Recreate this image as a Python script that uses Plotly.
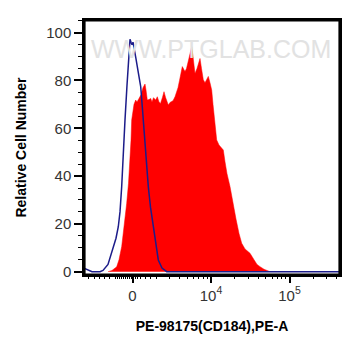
import math
import plotly.graph_objects as go

# x positions are in display decades (0 label at 0, 10^4 at 1, 10^5 at 2)
DEC_PX = 78.5
ZERO_PX = 132.5
Y_PX = 2.39  # pixels per y unit

def px_to_c(p):
    return (p - ZERO_PX) / DEC_PX

# Sample (red) histogram: pixel-read positions and relative counts
red_px = [108, 112, 116.7, 119, 121.7, 124, 126.7, 128.5, 130, 131, 131.7, 133, 134, 135.7, 137, 139, 141, 143,
          145, 146, 147.3, 149, 150.7, 152, 153.5, 155.7, 157.3, 159, 160.5, 162.5, 164, 165.5, 167.3, 168.3, 170,
          171.7, 173, 175, 176.5, 178, 179.5, 181, 182.3, 184, 185, 186.5, 188, 190, 191.7, 193, 195, 197, 199, 200,
          201.5, 203.3, 205, 207, 208.3, 210, 211.7, 213, 214, 215, 216.7, 219, 221, 223.3, 225, 227, 230, 233.3,
          236, 239, 241.7, 245, 248, 250, 254, 257, 260, 264, 270]
red_val = [0, 0.5, 2, 5, 10.5, 18, 28.6, 37, 45.4, 55, 63.5, 67, 70, 71.8, 71, 72.5, 74, 77,
           78.5, 76, 71.8, 72, 72.5, 71, 72.8, 71.8, 73.2, 71, 70.4, 73, 75.3, 73, 70.4, 69.7, 70.8,
           71.1, 71.5, 73.2, 75, 77, 80, 84, 85.8, 84.5, 83.7, 85, 88, 92, 94.1, 90, 82.9, 85, 88.5, 89.2,
           85, 80.3, 79, 80.5, 81.7, 79, 76, 70, 66, 61, 55.1, 53, 52, 50.9, 46, 41, 35.6, 27.2,
           22, 16, 11.9, 9.5, 8.5, 7.7, 5, 3, 2.1, 1, 0]

# Control (blue) histogram
blue_px = [84, 88, 92, 100, 103, 108, 113, 116, 118.3, 120, 121.7, 123, 125, 127, 128.5, 130, 131, 132, 133, 134,
           136, 137.3, 139, 140.7, 142.3, 143.3, 145, 146.5, 148.3, 150.5, 153.3, 155.5, 158.3, 162, 166.7, 340]
blue_val = [1.5, 0.8, 0, 0, 0.5, 3, 10.5, 14, 18.8, 25, 35.6, 48, 63.5, 78, 88, 97.2, 96, 95, 96, 94,
            89, 85.8, 81, 77.4, 69, 63.5, 52.3, 44, 35.6, 27, 18.8, 11, 4.9, 1.5, 0, 0]

x_tickvals = [0, 1, 2]
x_ticktext = ["0", "10<sup>4</sup>", "10<sup>5</sup>"]
y_tickvals = [0, 20, 40, 60, 80, 100]
minor_px = [88, 94, 99, 104, 109, 115, 117, 119, 121, 123, 125, 127, 129, 131, 133, 135, 137, 140, 145, 150]

red_x = [px_to_c(p) for p in red_px]
blue_x = [px_to_c(p) for p in blue_px]

minor_c = [px_to_c(p) for p in minor_px]
for d in (0, 1, 2):
    for k in range(2, 10):
        minor_c.append(d + math.log10(k))

x_range = [px_to_c(84), px_to_c(340)]
y_range = [-1.4, 105.3]

fig = go.Figure()
fig.add_trace(go.Scatter(x=red_x, y=red_val, mode="lines", fill="tozeroy",
                         line=dict(color="#ff0000", width=0.5), fillcolor="#ff0000",
                         hoverinfo="skip", showlegend=False))
fig.add_trace(go.Scatter(x=blue_x, y=blue_val, mode="lines",
                         line=dict(color="#1c1c8a", width=1.5), hoverinfo="skip",
                         showlegend=False))

# plot frame as four thin filled bands along the inside of the axis ranges
bw_x = 1.6 / DEC_PX
bw_y = 1.6 / Y_PX
x0, x1 = x_range
y0, y1 = y_range
bands = [
    (x0, x1, y0, y0 + bw_y),
    (x0, x1, y1 - bw_y, y1),
    (x0, x0 + bw_x, y0, y1),
    (x1 - bw_x, x1, y0, y1),
]
for a, b, c, d in bands:
    fig.add_trace(go.Scatter(x=[a, b, b, a, a], y=[c, c, d, d, c], mode="lines", fill="toself",
                             fillcolor="#000000", line=dict(color="#000000", width=0),
                             hoverinfo="skip", showlegend=False))

# invisible helper trace so the minor-tick axis is drawn
fig.add_trace(go.Scatter(x=x_range, y=[0, 0], xaxis="x2", mode="lines",
                         line=dict(width=0), hoverinfo="skip", showlegend=False))

fig.add_annotation(text="WWW.PTGLAB.COM", xref="paper", yref="paper", x=0.496, y=0.949,
                   showarrow=False, font=dict(family="Arial", size=25, color="#e2e2e2"))

# page body has an 8px default margin, so the figure is shifted by 8px
fig.update_layout(
    width=353, height=348,
    margin=dict(l=76, r=21, t=12, b=81),
    plot_bgcolor="white", paper_bgcolor="white",
    font=dict(family="Arial", color="#333333"),
    xaxis=dict(range=x_range, tickmode="array", tickvals=x_tickvals, ticktext=x_ticktext,
               ticks="outside", ticklen=6, tickwidth=2, tickcolor="#000000",
               showline=True, linecolor="#000000", linewidth=1.5, mirror=True,
               showgrid=False, zeroline=False, tickfont=dict(size=15), automargin=False,
               title=dict(text="<b>PE-98175(CD184),PE-A</b>", font=dict(size=14, color="black"), standoff=18)),
    xaxis2=dict(range=x_range, overlaying="x", side="bottom", anchor="y", tickmode="array",
                tickvals=minor_c, ticks="outside", ticklen=3, tickwidth=1, tickcolor="#000000",
                showticklabels=False, showgrid=False, zeroline=False, showline=False, automargin=False),
    yaxis=dict(range=y_range, tickmode="array", tickvals=y_tickvals,
               ticks="outside", ticklen=8, tickwidth=2, tickcolor="#000000",
               showline=True, linecolor="#000000", linewidth=1.5, mirror=True,
               showgrid=False, zeroline=False, tickfont=dict(size=15), automargin=False,
               minor=dict(dtick=5, ticks="outside", ticklen=4, tickcolor="#000000", tickwidth=1, showgrid=False),
               title=dict(text="<b>Relative Cell Number</b>", font=dict(size=14, color="black"), standoff=16)),
)

fig.write_html("out.html")
